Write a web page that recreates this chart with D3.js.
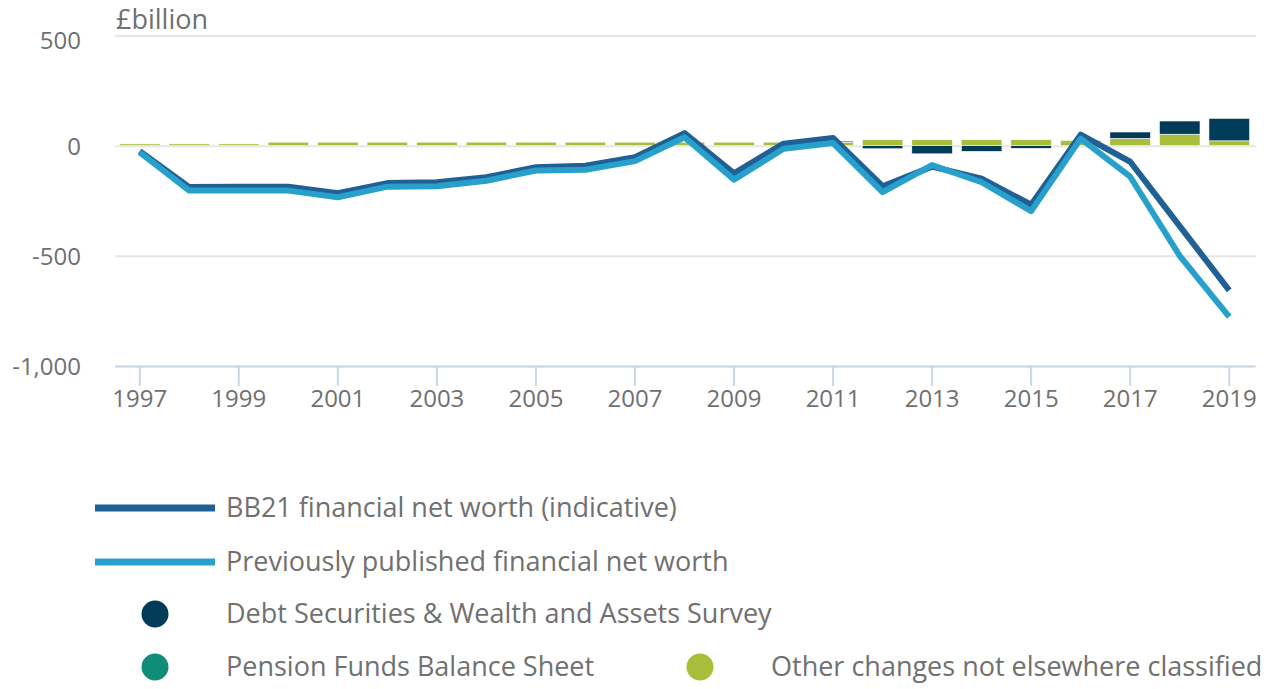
<!DOCTYPE html>
<html><head><meta charset="utf-8">
<script src="https://cdn.jsdelivr.net/npm/d3@7"></script>
<style>
html,body{margin:0;padding:0;background:#fff;}
svg{display:block;font-family:"Open Sans",sans-serif;}
</style></head>
<body><svg id="c" width="1272" height="689"></svg>
<script>
const years = ["1997","1998","1999","2000","2001","2002","2003","2004","2005","2006","2007","2008","2009","2010","2011","2012","2013","2014","2015","2016","2017","2018","2019"];
const bb21 = [-25,-188,-186,-186,-216,-170,-166,-143,-98,-91,-52,57,-125,9,35,-184,-95,-150,-268,50,-73,-365,-657];
const previous = [-30,-204,-204,-204,-234,-186,-184,-159,-113,-109,-70,38,-154,-14,12,-211,-88,-166,-297,32,-141,-500,-777];
const debtSecurities = [0,0,0,0,0,0,0,0,0,0,0,0,0,0,0,-14,-37,-26,-12,0,29,60,102];
const pensionFunds = [0,0,0,0,0,0,0,0,0,0,0,0,0,0,6,0,0,0,0,0,0,0,0];
const otherChanges = [8,8,8,16,16,16,16,16,16,16,16,16,16,16,15,27,27,27,27,24,33,52,22];
const yTicks = [500,0,-500,-1000];
const xTickYears = ["1997","1999","2001","2003","2005","2007","2009","2011","2013","2015","2017","2019"];
const lineSeries = [
  {name:"BB21 financial net worth (indicative)", values:bb21, color:"#206095"},
  {name:"Previously published financial net worth", values:previous, color:"#27a0cc"}
];
const barSeries = [
  {key:"debt", name:"Debt Securities & Wealth and Assets Survey", values:debtSecurities, color:"#003c57"},
  {key:"pension", name:"Pension Funds Balance Sheet", values:pensionFunds, color:"#118c7b"},
  {key:"other", name:"Other changes not elsewhere classified", values:otherChanges, color:"#a8bd3a"}
];

const svg = d3.select("#c");
const textColor = "#707070";
const left = 115, right = 1254;
const x = d3.scaleBand().domain(years).range([left, right]);
const y = d3.scaleLinear().domain([-1000, 500]).range([366, 35.5]);
const fmt = d3.formatLocale({decimal:".",thousands:",",grouping:[3],currency:["£",""],minus:"-"}).format(",");

// gridlines + y labels
const gy = svg.append("g").attr("transform",`translate(${left},0)`)
  .call(d3.axisLeft(y).tickValues(yTicks).tickSize(-(right + 2 - left)).tickFormat(fmt).tickPadding(34));
gy.select(".domain").remove();
gy.selectAll(".tick line").attr("stroke","#e6e6e6").attr("stroke-width",2);
gy.selectAll(".tick text").attr("fill",textColor).style("font-size","24px").style("font-family","Open Sans")
  .attr("dy", d => d === 500 ? "0.55em" : "0.35em");

// bars
const table = years.map((yr,i) => ({year:yr, debt:debtSecurities[i], pension:pensionFunds[i], other:otherChanges[i]}));
const stack = d3.stack().keys(["other","pension","debt"]).offset(d3.stackOffsetDiverging);
const stacked = stack(table);
const colorOf = {debt:"#003c57", pension:"#118c7b", other:"#a8bd3a"};
const bw = x.bandwidth()*0.82;
svg.append("g").selectAll("g").data(stacked).join("g").attr("fill", d => colorOf[d.key])
  .selectAll("rect").data(d => d).join("rect")
  .attr("x", d => x(d.data.year) + (x.bandwidth()-bw)/2)
  .attr("width", bw)
  .attr("y", d => y(Math.max(d[0],d[1])))
  .attr("height", d => Math.abs(y(d[0]) - y(d[1])))
  .attr("stroke","#fff").attr("stroke-width",0.6);

// x axis
const gx = svg.append("g").attr("transform",`translate(0,${y(-1000)})`)
  .call(d3.axisBottom(x).tickValues(xTickYears).tickSize(20).tickSizeOuter(0).tickPadding(4));
gx.select(".domain").attr("stroke","#ccd6eb").attr("stroke-width",2);
gx.selectAll(".tick line").attr("stroke","#ccd6eb").attr("stroke-width",2);
gx.selectAll(".tick text").attr("fill",textColor).style("font-size","24px").style("font-family","Open Sans");

// lines
const line = d3.line().x((d,i) => x(years[i]) + x.bandwidth()/2).y(d => y(d));
svg.append("g").selectAll("path").data(lineSeries).join("path")
  .attr("d", d => line(d.values)).attr("fill","none").attr("stroke", d => d.color)
  .attr("stroke-width",6).attr("stroke-linejoin","round").attr("stroke-linecap","butt");

// axis title
svg.append("text").attr("x",116).attr("y",29).attr("fill",textColor).style("font-size","27px").text("£billion");

// legend
const lg = svg.append("g").style("font-size","27px");
const legendItems = [
  {type:"line", s:lineSeries[0], sx:95, tx:226, cy:508},
  {type:"line", s:lineSeries[1], sx:95, tx:226, cy:562},
  {type:"dot", s:barSeries[0], sx:155, tx:226, cy:614},
  {type:"dot", s:barSeries[1], sx:155, tx:226, cy:667},
  {type:"dot", s:barSeries[2], sx:700, tx:771, cy:667}
];
legendItems.forEach(it => {
  if (it.type === "line") {
    lg.append("line").attr("x1",it.sx).attr("x2",it.sx+120).attr("y1",it.cy).attr("y2",it.cy)
      .attr("stroke",it.s.color).attr("stroke-width",7);
  } else {
    lg.append("circle").attr("cx",it.sx).attr("cy",it.cy).attr("r",13.5).attr("fill",it.s.color);
  }
  lg.append("text").attr("x",it.tx).attr("y",it.cy).attr("dy","0.35em").attr("fill",textColor).text(it.s.name);
});
</script></body></html>
